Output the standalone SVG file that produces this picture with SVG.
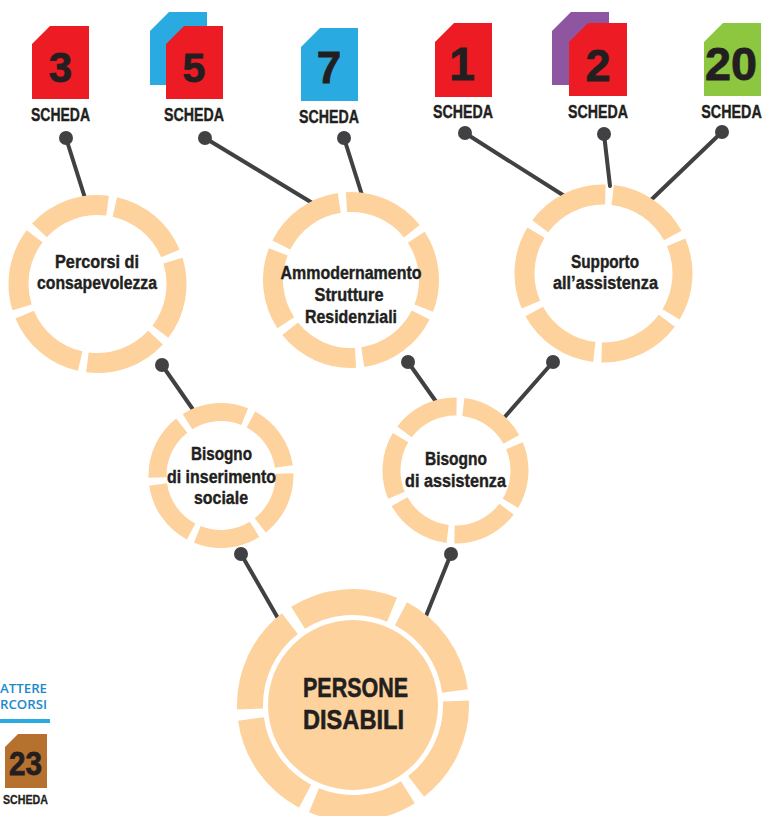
<svg xmlns="http://www.w3.org/2000/svg" width="765" height="816" viewBox="0 0 765 816">
<style>
.ring{fill:none;stroke:#FDD29C}
.disc{fill:#FDD29C}
.lbl{font-family:"Liberation Sans",Arial,sans-serif;font-weight:bold;fill:#231F20;text-anchor:middle;stroke:#231F20;stroke-width:0.4}
.num{font-family:"Liberation Sans",Arial,sans-serif;font-weight:bold;fill:#231F20;text-anchor:middle;stroke:#231F20;stroke-width:0.8}
.sch{font-family:"Liberation Sans",Arial,sans-serif;font-weight:bold;fill:#231F20;text-anchor:middle;font-size:18.5px;stroke:#231F20;stroke-width:0.4}
.con line{stroke:#414042;stroke-width:4;stroke-linecap:round}
.con circle{fill:#414042}
.blue{font-family:"Open Sans","Liberation Sans",sans-serif;font-weight:600;fill:#1A8ACB;text-anchor:end;font-size:13px}
</style>
<rect width="765" height="816" fill="#ffffff"/>

<g id="connectors" class="con">
<line x1="66" y1="138" x2="85" y2="198"/>
<line x1="205" y1="138" x2="314" y2="204"/>
<line x1="344" y1="138" x2="362" y2="195"/>
<line x1="465" y1="133" x2="566" y2="197"/>
<line x1="604" y1="134" x2="610" y2="186"/>
<line x1="722" y1="132" x2="651" y2="200"/>
<line x1="162" y1="365" x2="194" y2="411"/>
<line x1="408" y1="362" x2="437" y2="403"/>
<line x1="553" y1="362" x2="503" y2="419"/>
<line x1="241" y1="554" x2="279" y2="620"/>
<line x1="451" y1="554" x2="426" y2="616"/>
<circle cx="66" cy="138" r="7"/>
<circle cx="205" cy="138" r="7"/>
<circle cx="344" cy="138" r="7"/>
<circle cx="465" cy="133" r="7"/>
<circle cx="604" cy="134" r="7"/>
<circle cx="722" cy="132" r="7"/>
<circle cx="162" cy="365" r="7"/>
<circle cx="408" cy="362" r="7"/>
<circle cx="553" cy="362" r="7"/>
<circle cx="241" cy="554" r="7"/>
<circle cx="451" cy="554" r="7"/>
</g>

<g id="card-3">
<path d="M50,26H89V99H32V44Z" fill="#ED1C24"/>
<text class="num" x="60.5" y="82" font-size="42">3</text>
<text class="sch" x="60.5" y="121" textLength="59" lengthAdjust="spacingAndGlyphs">SCHEDA</text>
</g>
<g id="card-5">
<path d="M169,12H207V85H150V31Z" fill="#29ABE2"/>
<path d="M184,26H223V99H166V44Z" fill="#ED1C24"/>
<text class="num" x="194" y="82" font-size="41">5</text>
<text class="sch" x="194" y="121" textLength="60" lengthAdjust="spacingAndGlyphs">SCHEDA</text>
</g>
<g id="card-7">
<path d="M320,28H358V101H301V47Z" fill="#29ABE2"/>
<text class="num" x="329" y="83" font-size="44">7</text>
<text class="sch" x="329" y="123" textLength="60" lengthAdjust="spacingAndGlyphs">SCHEDA</text>
</g>
<g id="card-1">
<path d="M454,23H492V97H435V42Z" fill="#ED1C24"/>
<text class="num" x="462" y="80" font-size="46">1</text>
<text class="sch" x="463" y="118" textLength="60" lengthAdjust="spacingAndGlyphs">SCHEDA</text>
</g>
<g id="card-2">
<path d="M571,12H609V85H552V31Z" fill="#8E55A1"/>
<path d="M588,23H627V96H569V42Z" fill="#ED1C24"/>
<text class="num" x="598" y="81" font-size="45">2</text>
<text class="sch" x="598" y="118" textLength="60" lengthAdjust="spacingAndGlyphs">SCHEDA</text>
</g>
<g id="card-20">
<path d="M723,23H761V96H704V42Z" fill="#8DC63F"/>
<text class="num" x="731" y="80" font-size="46" textLength="52" lengthAdjust="spacingAndGlyphs">20</text>
<text class="sch" transform="translate(731.5 118) scale(0.775 1)" x="0" y="0">SCHEDA</text>
</g>
<g id="card-23">
<path d="M18,734H47V788H5V747Z" fill="#B7712E"/>
<text class="num" x="25.5" y="775" font-size="33" textLength="33" lengthAdjust="spacingAndGlyphs">23</text>
<text class="sch" x="25.5" y="804" style="font-size:12.5px;stroke-width:0.3" textLength="45" lengthAdjust="spacingAndGlyphs">SCHEDA</text>
</g>

<g id="side-label">
<text class="blue" x="47" y="693" textLength="47" lengthAdjust="spacingAndGlyphs">ATTERE</text>
<text class="blue" x="47" y="709" textLength="47" lengthAdjust="spacingAndGlyphs">RCORSI</text>
<rect x="0" y="719" width="50" height="4" fill="#29ABE2"/>
</g>

<g id="node-percorsi">
<circle class="ring" cx="97.5" cy="284" r="79" stroke-width="20" pathLength="360" stroke-dasharray="54.5 5.5" stroke-dashoffset="57.25" transform="rotate(-80 97.5 284)"/>
<text class="lbl" x="97" y="268" font-size="18" textLength="84" lengthAdjust="spacingAndGlyphs">Percorsi di</text>
<text class="lbl" x="97" y="289" font-size="18" textLength="120" lengthAdjust="spacingAndGlyphs">consapevolezza</text>
</g>

<g id="node-ammodernamento">
<circle class="ring" cx="351" cy="280" r="78" stroke-width="20" pathLength="360" stroke-dasharray="54.5 5.5" stroke-dashoffset="57.25" transform="rotate(-96 351 280)"/>
<text class="lbl" x="351" y="279" font-size="18" textLength="141" lengthAdjust="spacingAndGlyphs">Ammodernamento</text>
<text class="lbl" x="349" y="301" font-size="18" textLength="69" lengthAdjust="spacingAndGlyphs">Strutture</text>
<text class="lbl" x="351" y="323" font-size="18" textLength="92" lengthAdjust="spacingAndGlyphs">Residenziali</text>
</g>

<g id="node-supporto">
<circle class="ring" cx="603.5" cy="273.5" r="79" stroke-width="20" pathLength="360" stroke-dasharray="54.5 5.5" stroke-dashoffset="57.25" transform="rotate(-86 603.5 273.5)"/>
<text class="lbl" x="605" y="268" font-size="18" textLength="68" lengthAdjust="spacingAndGlyphs">Supporto</text>
<text class="lbl" x="605.5" y="289" font-size="18" textLength="105" lengthAdjust="spacingAndGlyphs">all’assistenza</text>
</g>

<g id="node-inserimento">
<circle class="ring" cx="221" cy="475.5" r="63.5" stroke-width="18" pathLength="360" stroke-dasharray="53.7 6.3" stroke-dashoffset="56.85" transform="rotate(-65 221 475.5)"/>
<text class="lbl" x="221.5" y="460" font-size="18" textLength="61" lengthAdjust="spacingAndGlyphs">Bisogno</text>
<text class="lbl" x="221.5" y="483" font-size="18" textLength="109" lengthAdjust="spacingAndGlyphs">di inserimento</text>
<text class="lbl" x="221" y="504" font-size="18" textLength="54" lengthAdjust="spacingAndGlyphs">sociale</text>
</g>

<g id="node-assistenza">
<circle class="ring" cx="455.5" cy="470.5" r="64" stroke-width="18" pathLength="360" stroke-dasharray="53.7 6.3" stroke-dashoffset="56.85" transform="rotate(-86 455.5 470.5)"/>
<text class="lbl" x="456" y="465" font-size="18" textLength="62" lengthAdjust="spacingAndGlyphs">Bisogno</text>
<text class="lbl" x="455.5" y="487" font-size="18" textLength="101" lengthAdjust="spacingAndGlyphs">di assistenza</text>
</g>

<g id="node-persone">
<circle class="ring" cx="353" cy="705" r="103" stroke-width="26" pathLength="360" stroke-dasharray="54.4 5.6" stroke-dashoffset="57.2" transform="rotate(-65 353 705)"/>
<circle class="disc" cx="353" cy="705" r="85"/>
<text class="lbl" x="355.5" y="697" font-size="28" textLength="105" lengthAdjust="spacingAndGlyphs" style="stroke-width:0.6">PERSONE</text>
<text class="lbl" x="353.5" y="729" font-size="28" textLength="101" lengthAdjust="spacingAndGlyphs" style="stroke-width:0.6">DISABILI</text>
</g>
</svg>
